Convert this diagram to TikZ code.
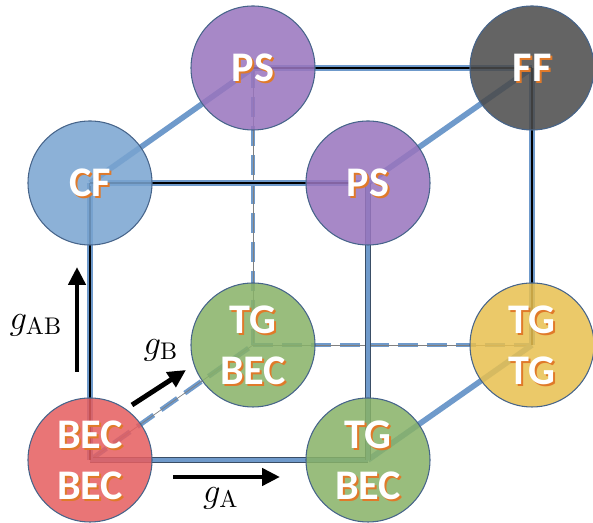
\documentclass[tikz,border=0pt]{standalone}
\usepackage{amsmath}
\usepackage{fontspec}
\newfontfamily\statefont{Carlito}
\usepackage{tikz}
\usetikzlibrary{arrows.meta,positioning,calc}
\definecolor{becred}{HTML}{E55E60}
\definecolor{tggreen}{HTML}{88B268}
\definecolor{cfblue}{HTML}{79A4D0}
\definecolor{pspurple}{HTML}{9975BE}
\definecolor{ffgray}{HTML}{4A4A4A}
\definecolor{tgyellow}{HTML}{E8C050}
\definecolor{edgeblue}{HTML}{6F9ACB}
\definecolor{edgedark}{HTML}{3A4E66}
\definecolor{circleedge}{HTML}{46648A}
\definecolor{textshadow}{HTML}{E07A2A}

\tikzset{
  state/.style={circle,minimum size=2.48cm,inner sep=0pt,draw=circleedge,
    line width=0.6pt,fill opacity=0.86},
  statetext/.style={text=white,inner sep=0pt,align=center,
    font=\statefont\bfseries\fontsize{24}{29}\selectfont},
  stateshadow/.style={statetext,text=textshadow},
  darkedge/.style={draw=edgeblue,line width=3pt,
    postaction={draw=black,line width=1.2pt}},
  solidedge/.style={draw=edgedark,double=edgeblue,double distance=2pt,line width=0.5pt},
  diagonal/.style={draw=edgeblue,line width=3.2pt},
  hidden/.style={draw=edgeblue,line width=2.8pt,dash pattern=on 0.4cm off 0.18cm,
    postaction={draw=gray,line width=0.4pt,solid}},
  coupling/.style={draw=black,line width=2.8pt,-{Triangle[length=0.36cm,width=0.34cm]}},
  couplinglabel/.style={font=\Large,scale=1.37,transform shape}
}

\newcommand{\statecircle}[3]{%
  \node[state,fill=#2] (#1) at (v#1) {};
  \node[stateshadow] (#1s) at ($(v#1)+(0.04,-0.04)$) {#3};
  \node[statetext] (#1t) at (v#1) {#3};
}

\begin{document}
\begin{tikzpicture}
  \useasboundingbox (0,0) rectangle (11.86,10.46);

  % cube corners
  \coordinate (vbec) at (1.8,1.26);
  \coordinate (vtgf) at (7.36,1.26);
  \coordinate (vcf) at (1.8,6.8);
  \coordinate (vpsf) at (7.36,6.8);
  \coordinate (vtgb) at (5.06,3.56);
  \coordinate (vtgtg) at (10.64,3.56);
  \coordinate (vpsb) at (5.06,9.1);
  \coordinate (vff) at (10.64,9.1);

  % hidden edges
  \draw[hidden] (vbec) -- (vtgb);
  \draw[hidden] (vpsb) -- (vtgb);
  \draw[hidden] (vtgb) -- (vtgtg);

  % depth edges
  \draw[diagonal] (vcf) -- (vpsb);
  \draw[diagonal] (vpsf) -- (vff);
  \draw[diagonal] (vtgf) -- (vtgtg);

  % front and back edges
  \draw[solidedge] (vbec) -- (vtgf);
  \draw[solidedge] (vpsf) -- (vtgf);
  \draw[darkedge] (vcf) -- (vbec);
  \draw[darkedge] (vcf) -- (vpsf);
  \draw[darkedge] (vpsb) -- (vff);
  \draw[darkedge] (vff) -- (vtgtg);

  % states
  \statecircle{psb}{pspurple}{PS}
  \statecircle{ff}{ffgray}{FF}
  \statecircle{tgb}{tggreen}{TG\\BEC}
  \statecircle{tgtg}{tgyellow}{TG\\TG}
  \statecircle{cf}{cfblue}{CF}
  \statecircle{psf}{pspurple}{PS}
  \statecircle{tgf}{tggreen}{TG\\BEC}
  \statecircle{bec}{becred}{BEC\\BEC}

  % coupling arrows
  \coordinate (gabstart) at (1.54,3.02);
  \coordinate (gabend) at (1.54,5.12);
  \draw[coupling] (gabstart) -- (gabend);
  \node[couplinglabel] (gab) at (0.72,3.96) {$g_{\mathrm{AB}}$};

  \coordinate (gbstart) at (2.64,2.36);
  \coordinate (gbend) at (3.72,3.06);
  \draw[coupling] (gbstart) -- (gbend);
  \node[couplinglabel] (gb) at (3.22,3.46) {$g_{\mathrm{B}}$};

  \coordinate (gastart) at (3.46,0.92);
  \coordinate (gaend) at (5.6,0.92);
  \draw[coupling] (gastart) -- (gaend);
  \node[couplinglabel] (ga) at (4.42,0.5) {$g_{\mathrm{A}}$};
\end{tikzpicture}
\end{document}
